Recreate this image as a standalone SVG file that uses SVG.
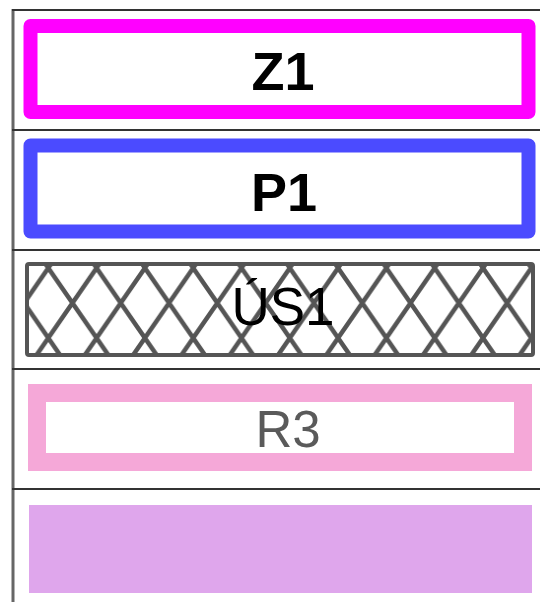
<svg xmlns="http://www.w3.org/2000/svg" width="540" height="602" viewBox="0 0 540 602">
  <style>
    .frame { stroke: #333333; stroke-width: 2; fill: none; }
    .frameL { stroke: #666666; stroke-width: 3; fill: none; }
    .lbl { font-family: "Liberation Sans", Arial, sans-serif; text-anchor: middle; }
    .bold { font-weight: bold; fill: #000000; font-size: 54px; }
  </style>
  <defs>
    <pattern id="hatch" patternUnits="userSpaceOnUse" x="48.3" y="268" width="48.3" height="70">
      <path d="M-24.15,-35 L72.45,105 M72.45,-35 L-24.15,105 M24.15,-35 L120.75,105 M24.15,-35 L-72.45,105" stroke="#555555" stroke-width="4.5" fill="none"/>
    </pattern>
  </defs>
  <rect x="0" y="0" width="540" height="602" fill="#ffffff"/>
  <g id="frame">
    <line class="frameL" x1="13" y1="9" x2="13" y2="602"/>
    <line class="frame" x1="12" y1="10" x2="540" y2="10"/>
    <line class="frame" x1="12" y1="130" x2="540" y2="130"/>
    <line class="frame" x1="12" y1="250" x2="540" y2="250"/>
    <line class="frame" x1="12" y1="369" x2="540" y2="369"/>
    <line class="frame" x1="12" y1="489" x2="540" y2="489"/>
  </g>
  <g id="Z1">
    <rect x="30.5" y="26" width="498" height="86" fill="#ffffff" stroke="#ff00ff" stroke-width="14" stroke-linejoin="round"/>
    <text class="lbl bold" x="283" y="90">Z1</text>
  </g>
  <g id="P1">
    <rect x="30.5" y="145.5" width="498" height="86" fill="#ffffff" stroke="#4b4bff" stroke-width="14" stroke-linejoin="round"/>
    <text class="lbl bold" x="284" y="211">P1</text>
  </g>
  <g id="US1">
    <rect x="27" y="264" width="506" height="91" fill="#ffffff"/>
    <rect x="27" y="264" width="506" height="91" fill="url(#hatch)" stroke="#555555" stroke-width="4" rx="2"/>
    <text class="lbl" x="283" y="325" font-size="53" fill="#000000">ÚS1</text>
  </g>
  <g id="R3">
    <rect x="37" y="393" width="486" height="69" fill="#ffffff" stroke="#f5a8d8" stroke-width="18"/>
    <text class="lbl" x="288" y="447" font-size="51" fill="#5a5a5a">R3</text>
  </g>
  <g id="fill">
    <rect x="29" y="505" width="503" height="88" fill="#dfa6ec"/>
  </g>
</svg>
